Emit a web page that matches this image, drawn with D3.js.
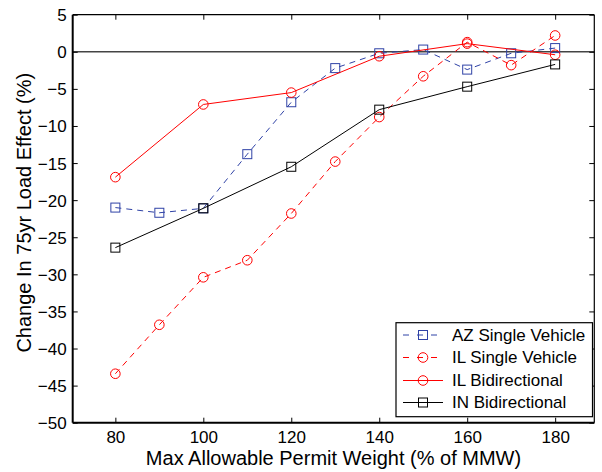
<!DOCTYPE html>
<html><head><meta charset="utf-8">
<script src="https://cdn.jsdelivr.net/npm/d3@7"></script>
<style>body{margin:0;background:#fff}svg{display:block}text{font-family:"Liberation Sans",Arial,sans-serif;fill:#000}</style>
</head><body>
<svg id="c" width="602" height="472"></svg>
<script>
const xTicks = [80, 100, 120, 140, 160, 180];
const yTicks = [5, 0, -5, -10, -15, -20, -25, -30, -35, -40, -45, -50];
const azX = [80, 90, 100, 110, 120, 130, 140, 150, 160, 170, 180];
const azY = [-21.0, -21.7, -21.1, -13.8, -6.8, -2.2, -0.2, 0.3, -2.4, -0.2, 0.5];
const ilsX = [80, 90, 100, 110, 120, 130, 140, 150, 160, 170, 180];
const ilsY = [-43.4, -36.8, -30.4, -28.1, -21.8, -14.8, -8.8, -3.3, 1.3, -1.8, 2.2];
const ilbX = [80, 100, 120, 140, 160, 180];
const ilbY = [-16.9, -7.1, -5.5, -0.6, 1.1, -0.4];
const inbX = [80, 100, 120, 140, 160, 180];
const inbY = [-26.4, -21.1, -15.5, -7.8, -4.7, -1.7];
const seriesNames = ["AZ Single Vehicle", "IL Single Vehicle", "IL Bidirectional", "IN Bidirectional"];

const series = [
  {name: seriesNames[0], xs: azX, ys: azY, color: "#2f42a6", dash: "6,5", marker: "square"},
  {name: seriesNames[1], xs: ilsX, ys: ilsY, color: "#ff0000", dash: "6,5", marker: "circle"},
  {name: seriesNames[2], xs: ilbX, ys: ilbY, color: "#ff0000", dash: null, marker: "circle"},
  {name: seriesNames[3], xs: inbX, ys: inbY, color: "#000000", dash: null, marker: "square"}
];

const L = 72.7, R = 594.3, T = 14.7, B = 422.7;
const x = d3.scaleLinear().domain([70.3, 188.9]).range([L, R]);
const y = d3.scaleLinear().domain([-50, 5]).range([B, T]);
const svg = d3.select("#c");

// zero line
svg.append("line").attr("x1", L).attr("x2", R).attr("y1", y(0)).attr("y2", y(0))
  .attr("stroke", "#444").attr("stroke-width", 1.5);

// axes
const tl = 5;
const gB = svg.append("g").attr("transform", `translate(0,${B})`)
  .call(d3.axisBottom(x).tickValues(xTicks).tickSize(-tl).tickPadding(8).tickSizeOuter(0));
const gT = svg.append("g").attr("transform", `translate(0,${T})`)
  .call(d3.axisTop(x).tickValues(xTicks).tickSize(-tl).tickFormat("").tickSizeOuter(0));
const gL = svg.append("g").attr("transform", `translate(${L},0)`)
  .call(d3.axisLeft(y).tickValues(yTicks).tickSize(-tl).tickPadding(6).tickSizeOuter(0));
const gR = svg.append("g").attr("transform", `translate(${R},0)`)
  .call(d3.axisRight(y).tickValues(yTicks).tickSize(-tl).tickFormat("").tickSizeOuter(0));
[gB, gT, gL, gR].forEach(g => {
  g.select(".domain").remove();
  g.selectAll(".tick line").attr("stroke", "#000").attr("stroke-width", 1);
  g.selectAll(".tick text").attr("font-size", 17).attr("font-family", "Liberation Sans, Arial, sans-serif").attr("fill", "#000");
});
gL.selectAll(".tick text").attr("dy", "0.35em");

// box
svg.append("line").attr("x1", L).attr("x2", L).attr("y1", T).attr("y2", B).attr("stroke", "#000").attr("stroke-width", 2);
svg.append("line").attr("x1", L).attr("x2", R).attr("y1", B).attr("y2", B).attr("stroke", "#000").attr("stroke-width", 2);
svg.append("line").attr("x1", L).attr("x2", R).attr("y1", T).attr("y2", T).attr("stroke", "#000").attr("stroke-width", 1.2);
svg.append("line").attr("x1", R).attr("x2", R).attr("y1", T).attr("y2", B).attr("stroke", "#000").attr("stroke-width", 1.2);

function drawMarker(g, type, cx, cy, color) {
  if (type === "square") {
    g.append("rect").attr("x", cx - 4.5).attr("y", cy - 4.5).attr("width", 9).attr("height", 9)
      .attr("fill", "none").attr("stroke", color).attr("stroke-width", 1);
  } else {
    g.append("circle").attr("cx", cx).attr("cy", cy).attr("r", 4.8)
      .attr("fill", "none").attr("stroke", color).attr("stroke-width", 1);
  }
}

const line = d3.line().x(d => x(d[0])).y(d => y(d[1]));
series.forEach(s => {
  const pts = s.xs.map((v, i) => [v, s.ys[i]]);
  const g = svg.append("g");
  g.append("path").attr("d", line(pts)).attr("fill", "none").attr("stroke", s.color)
    .attr("stroke-width", 1).attr("stroke-dasharray", s.dash);
  pts.forEach(p => drawMarker(g, s.marker, x(p[0]), y(p[1]), s.color));
});

// legend
const lg = svg.append("g");
lg.append("rect").attr("x", 396).attr("y", 322.7).attr("width", 196.5).attr("height", 94)
  .attr("fill", "#fff").attr("stroke", "#000").attr("stroke-width", 1.2);
const rowsY = [335, 357.5, 380.5, 402.5];
series.forEach((s, i) => {
  const yy = rowsY[i];
  lg.append("line").attr("x1", 403).attr("x2", 443).attr("y1", yy).attr("y2", yy)
    .attr("stroke", s.color).attr("stroke-width", 1).attr("stroke-dasharray", s.dash ? "6,8" : null);
  drawMarker(lg, s.marker, 423, yy, s.color);
  lg.append("text").attr("x", 452).attr("y", yy).attr("dy", "0.35em").attr("font-size", 17).text(s.name);
});

// axis titles
svg.append("text").attr("x", (L + R) / 2).attr("y", 465).attr("text-anchor", "middle")
  .attr("font-size", 20).text("Max Allowable Permit Weight (% of MMW)");
svg.append("text").attr("transform", `translate(24,${(T + B) / 2 - 6}) rotate(-90)`).attr("text-anchor", "middle")
  .attr("dy", "0.35em").attr("font-size", 20).text("Change In 75yr Load Effect (%)");
</script>
</body></html>
